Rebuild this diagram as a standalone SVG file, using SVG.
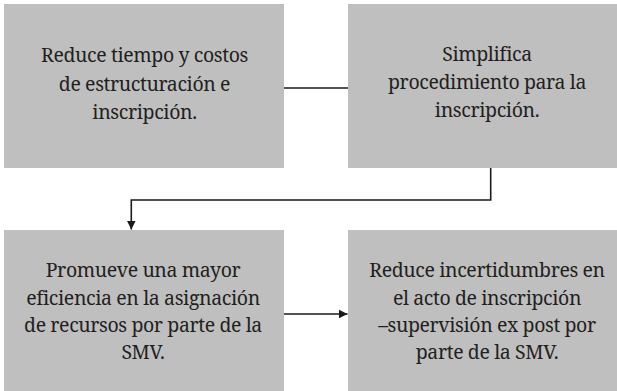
<svg xmlns="http://www.w3.org/2000/svg" width="617" height="391" viewBox="0 0 617 391">
  <style>
    .box { fill: #bfbfbf; }
    .lbl { font-family: 'Noto Serif', 'DejaVu Serif', serif; font-size: 19.5px; letter-spacing: -0.4px; fill: #231f20; text-anchor: middle; }
    .conn { fill: none; stroke: #1a1a1a; stroke-width: 1.6; }
  </style>
  <defs>
    <marker id="arrow" markerUnits="userSpaceOnUse" markerWidth="10" markerHeight="10" viewBox="0 0 10 10" refX="9" refY="5" orient="auto">
      <path d="M0,0.5 L9,5 L0,9.5 Z" fill="#1a1a1a"/>
    </marker>
  </defs>
  <rect x="0" y="0" width="617" height="391" fill="#ffffff"/>
  <g id="node1">
    <rect class="box" x="4" y="4" width="280" height="164"/>
    <text class="lbl" x="144.5"><tspan x="144.5" y="62">Reduce tiempo y costos</tspan><tspan x="144.5" y="90.5">de estructuración e</tspan><tspan x="144.5" y="119">inscripción.</tspan></text>
  </g>
  <g id="node2">
    <rect class="box" x="348" y="4" width="269" height="164"/>
    <text class="lbl" x="487"><tspan x="487" y="60.5">Simplifica</tspan><tspan x="487" y="88.5">procedimiento para la</tspan><tspan x="487" y="116.5">inscripción.</tspan></text>
  </g>
  <g id="node3">
    <rect class="box" x="4" y="230" width="280" height="161"/>
    <text class="lbl" x="143"><tspan x="143" y="277">Promueve una mayor</tspan><tspan x="143" y="304.5">eficiencia en la asignación</tspan><tspan x="143" y="331.5">de recursos por parte de la</tspan><tspan x="143" y="358.5">SMV.</tspan></text>
  </g>
  <g id="node4">
    <rect class="box" x="348" y="230" width="269" height="161"/>
    <text class="lbl" x="487"><tspan x="487" y="277">Reduce incertidumbres en</tspan><tspan x="487" y="304.5">el acto de inscripción</tspan><tspan x="487" y="331.5">–supervisión ex post por</tspan><tspan x="487" y="358.5">parte de la SMV.</tspan></text>
  </g>
  <g id="connectors">
    <path class="conn" d="M284,88 H348"/>
    <path class="conn" d="M490.7,168 V200 H131.3 V229.5" marker-end="url(#arrow)"/>
    <path class="conn" d="M284,314 H347.5" marker-end="url(#arrow)"/>
  </g>
</svg>
